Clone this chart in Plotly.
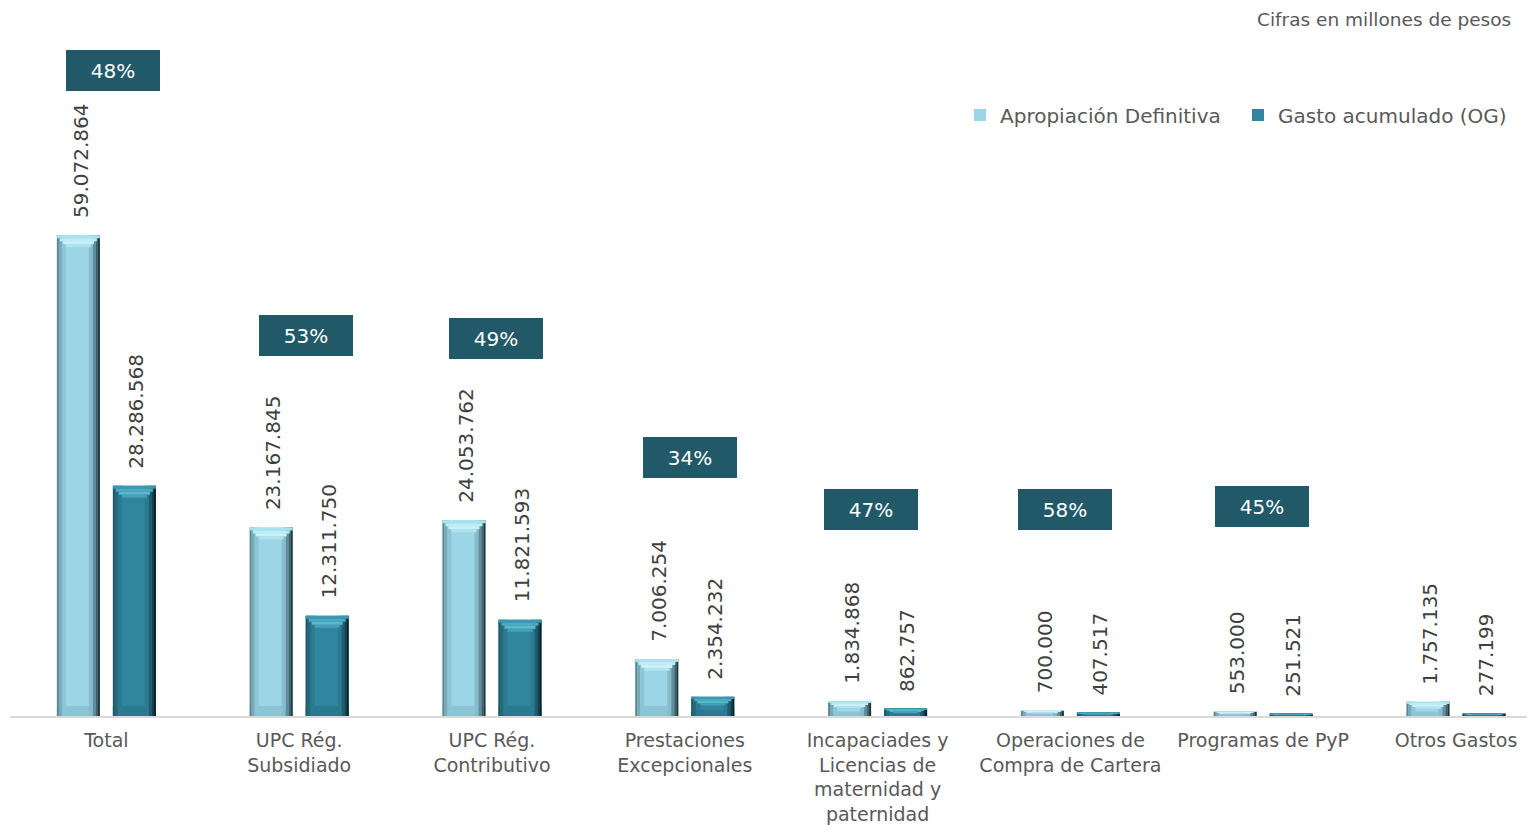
import plotly.graph_objects as go

# ---------------- data ----------------
categories = ["Total", "UPC Rég.<br>Subsidiado", "UPC Rég.<br>Contributivo",
              "Prestaciones<br>Excepcionales",
              "Incapaciades y<br>Licencias de<br>maternidad y<br>paternidad",
              "Operaciones de<br>Compra de Cartera", "Programas de PyP", "Otros Gastos"]
apropiacion = [59072864, 23167845, 24053762, 7006254, 1834868, 700000, 553000, 1757135]
gasto = [28286568, 12311750, 11821593, 2354232, 862757, 407517, 251521, 277199]
show_pct = [True, True, True, True, True, True, True, False]
series_names = ["Apropiación Definitiva", "Gasto acumulado (OG)"]
note_text = "Cifras en millones de pesos"

# ---------------- layout constants ----------------
OFF = 8                               # body margin of the page
W, H = 1535 - OFF, 825 - OFF
M_L, M_R, M_T, M_B = 10 - OFF, 0, 20 - OFF, 109
PLOT_H = H - M_T - M_B
PLOT_W = W - M_L - M_R
CAT_PX = 192.8                       # pixels per category
X_RANGE = [-0.5, -0.5 + PLOT_W / CAT_PX]
Y_MAX = 85.5e6
PX_PER_UNIT = PLOT_H / Y_MAX

BAR_PX = 43
GAP_PX = 13
FONT = "Verdana, DejaVu Sans, sans-serif"
TXT = "#595959"
VAL_TXT = "#404040"
BOX = "#215968"
FS = 20

# percent box placement (pixels: x shift from group centre, y centre on page)
pct_box_dx = [6.5, 6.7, 3.9, 5.1, -6.7, -5.5, -1.3, 0]
pct_box_cy = [70, 335, 338, 457, 509, 509, 506, 0]


def page_y_to_paper(py):
    return (H - M_B - (py - OFF)) / PLOT_H


def page_x_to_paper(px):
    return (px - OFF - M_L) / PLOT_W


styles = [
    dict(body="#9CD5E5", bottom="#8DC4D3",
         left=[(0, 2, "#5E8794"), (2, 5, "#79AAB8"), (5, 9, "#8CC6D5")],
         right=[(32, 36, "#87BDCB"), (36, 39, "#5F8E9A"), (39, 41, "#3F6069"), (41, 43, "#23363C")],
         cap=["#A9E2EF", "#BDEBF6", "#C9F1FA", "#AEE3EF"]),
    dict(body="#2F869E", bottom="#2A7990",
         left=[(0, 2, "#1F5A69"), (2, 5, "#26697C"), (5, 9, "#2B7A90")],
         right=[(32, 36, "#2A7A90"), (36, 39, "#1F5D6E"), (39, 41, "#153F4B"), (41, 43, "#0A2129")],
         cap=["#3B98B0", "#4DAAC1", "#5BB8CE", "#44A0B7"]),
]
series = [apropiacion, gasto]

fig = go.Figure()


def px2cat(p):
    return p / CAT_PX


def add_layer(s, x0px, x1px, bases, heights, color, name=None, legend=False):
    left_edge = (-GAP_PX / 2 - BAR_PX) if s == 0 else (GAP_PX / 2)
    fig.add_trace(go.Bar(
        x=categories, y=heights, base=bases,
        offset=px2cat(left_edge + x0px), width=px2cat(x1px - x0px),
        marker=dict(color=color, line=dict(width=0)),
        name=name if name else "", showlegend=legend,
        hoverinfo="skip" if not legend else None,
        legendgroup=str(s),
    ))


for s, vals in enumerate(series):
    st = styles[s]
    zeros = [0] * len(vals)
    hpx = [v * PX_PER_UNIT for v in vals]
    add_layer(s, 0, BAR_PX, zeros, vals, st["body"], series_names[s], True)
    bh = [min(10, 0.3 * h) / PX_PER_UNIT for h in hpx]
    add_layer(s, 0, BAR_PX, zeros, bh, st["bottom"])
    for a, b, c in st["left"]:
        add_layer(s, a, b, zeros, vals, c)
    for a, b, c in st["right"]:
        add_layer(s, a, b, zeros, vals, c)
    n = len(st["cap"])
    cap_px = [min(12, 0.45 * h) for h in hpx]
    for k, c in enumerate(st["cap"]):
        layer_h = [cp / n / PX_PER_UNIT for cp in cap_px]
        bases = [v - (k + 1) * lh for v, lh in zip(vals, layer_h)]
        ins = 3 * k
        add_layer(s, ins, BAR_PX - ins, bases, layer_h, c)

annotations = []
# value labels
for s, vals in enumerate(series):
    centre = (-GAP_PX / 2 - BAR_PX / 2) if s == 0 else (GAP_PX / 2 + BAR_PX / 2)
    for i, v in enumerate(vals):
        annotations.append(dict(
            x=i + px2cat(centre), y=v, xref="x", yref="y",
            text=f"{v:,}".replace(",", "."), showarrow=False,
            textangle=-90, yanchor="bottom", xanchor="center",
            yshift=15, xshift=2,
            font=dict(family=FONT, size=FS, color=VAL_TXT),
        ))

# percentage boxes
for i, (a, g) in enumerate(zip(apropiacion, gasto)):
    if not show_pct[i]:
        continue
    pct = round(g / a * 100)
    annotations.append(dict(
        x=i, xref="x", xshift=pct_box_dx[i],
        y=page_y_to_paper(pct_box_cy[i]), yref="paper",
        text=f"{pct}%", showarrow=False,
        xanchor="center", yanchor="middle",
        width=94, height=41, bgcolor=BOX, borderpad=0, borderwidth=0,
        font=dict(family=FONT, size=FS, color="white"),
    ))

annotations.append(dict(
    x=page_x_to_paper(1513), y=page_y_to_paper(19),
    xref="paper", yref="paper", xanchor="right", yanchor="middle",
    text=note_text, showarrow=False,
    font=dict(family=FONT, size=18.5, color=TXT),
))

fig.update_layout(
    width=W, height=H,
    margin=dict(l=M_L, r=M_R, t=M_T, b=M_B, autoexpand=False),
    barmode="overlay",
    paper_bgcolor="white", plot_bgcolor="white",
    font=dict(family=FONT, size=FS, color=TXT),
    showlegend=True,
    legend=dict(orientation="h", x=page_x_to_paper(1516), xanchor="right",
                y=page_y_to_paper(115), yanchor="middle",
                entrywidth=233, entrywidthmode="pixels",
                font=dict(family=FONT, size=FS, color=TXT),
                bgcolor="rgba(0,0,0,0)", traceorder="normal"),
    xaxis=dict(type="category", range=X_RANGE, showgrid=False, zeroline=False,
               showline=True, linecolor="#D9D9D9", linewidth=2, ticks="",
               ticklabelstandoff=6,
               tickfont=dict(family=FONT, size=19, color=TXT)),
    yaxis=dict(range=[0, Y_MAX], visible=False, showgrid=False, zeroline=False),
    annotations=annotations,
)

fig.write_html("out.html")
